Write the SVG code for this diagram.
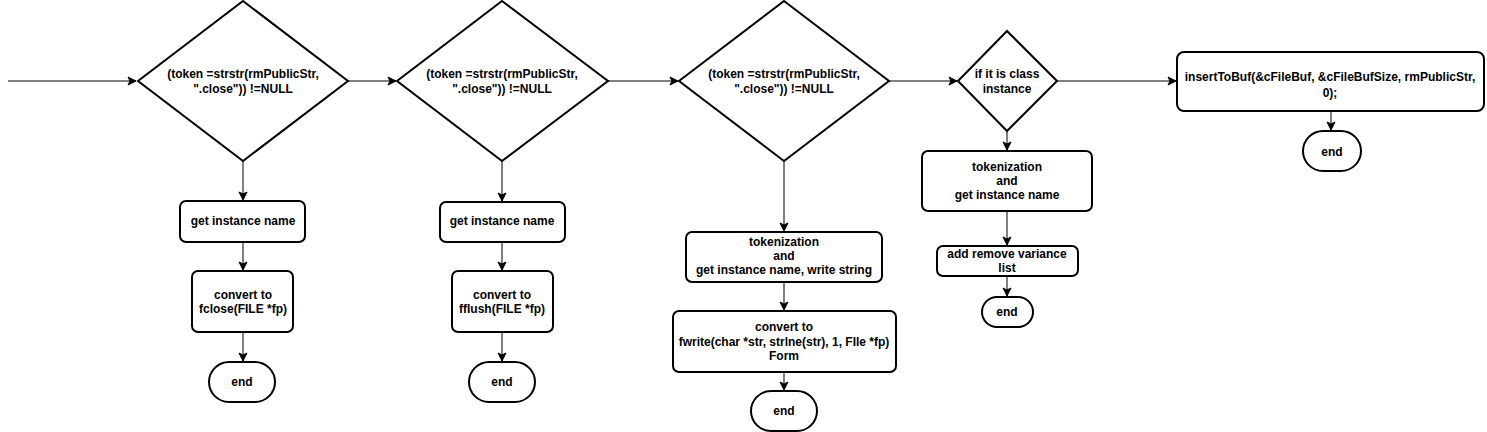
<svg xmlns="http://www.w3.org/2000/svg" width="1487" height="432" viewBox="0 0 1487 432">
<style>
.s{fill:#fff;stroke:#000;stroke-width:2}
.c{fill:none;stroke:#000;stroke-width:1}
text{font-family:"Liberation Sans",Arial,sans-serif;font-size:12px;font-weight:bold;text-anchor:middle;fill:#000}
</style>
<defs>
<marker id="a" markerUnits="userSpaceOnUse" markerWidth="10" markerHeight="10" viewBox="-1 -5 10 10" refX="8" refY="0" orient="auto">
<path d="M0,-4 L8,0 L0,4 L2,0 Z" fill="#000" stroke="#000" stroke-width="1"/>
</marker>
</defs>
<rect width="1487" height="432" fill="#fff"/>
<g id="connectors">
<path class="c" d="M8,81 H136" marker-end="url(#a)"/>
<path class="c" d="M348,81 H396" marker-end="url(#a)"/>
<path class="c" d="M608,81 H678" marker-end="url(#a)"/>
<path class="c" d="M889,81 H957" marker-end="url(#a)"/>
<path class="c" d="M1057,81 H1176" marker-end="url(#a)"/>
<path class="c" d="M243,161 V200" marker-end="url(#a)"/>
<path class="c" d="M243,242 V270" marker-end="url(#a)"/>
<path class="c" d="M243,332 V361" marker-end="url(#a)"/>
<path class="c" d="M502,161 V201" marker-end="url(#a)"/>
<path class="c" d="M502,242 V270" marker-end="url(#a)"/>
<path class="c" d="M502,332 V361" marker-end="url(#a)"/>
<path class="c" d="M784,161 V231" marker-end="url(#a)"/>
<path class="c" d="M784,282 V310" marker-end="url(#a)"/>
<path class="c" d="M784,372 V390" marker-end="url(#a)"/>
<path class="c" d="M1007,131 V150" marker-end="url(#a)"/>
<path class="c" d="M1007,211 V245" marker-end="url(#a)"/>
<path class="c" d="M1007,276 V296" marker-end="url(#a)"/>
<path class="c" d="M1331,111 V130" marker-end="url(#a)"/>
</g>
<g id="d1">
<polygon class="s" points="243,1 348,81 243,161 138,81"/>
<text x="243" y="78">(token =strstr(rmPublicStr,</text>
<text x="243" y="93">".close")) !=NULL</text>
</g>
<g id="b1a">
<rect class="s" x="180" y="201" width="125" height="41" rx="6"/>
<text x="243" y="225">get instance name</text>
</g>
<g id="b1b">
<rect class="s" x="192" y="271" width="101" height="61" rx="6"/>
<text x="243" y="298.5">convert to</text>
<text x="243" y="313">fclose(FILE *fp)</text>
</g>
<g id="e1">
<rect class="s" x="209" y="362" width="66" height="40" rx="20"/>
<text x="242" y="386">end</text>
</g>
<g id="d2">
<polygon class="s" points="502,1 608,81 502,161 397,81"/>
<text x="502" y="78">(token =strstr(rmPublicStr,</text>
<text x="502" y="93">".close")) !=NULL</text>
</g>
<g id="b2a">
<rect class="s" x="440" y="202" width="125" height="40" rx="6"/>
<text x="502" y="225">get instance name</text>
</g>
<g id="b2b">
<rect class="s" x="452" y="271" width="101" height="61" rx="6"/>
<text x="502" y="298.5">convert to</text>
<text x="502" y="313">fflush(FILE *fp)</text>
</g>
<g id="e2">
<rect class="s" x="469" y="362" width="66" height="40" rx="20"/>
<text x="502" y="386">end</text>
</g>
<g id="d3">
<polygon class="s" points="784,1 889,81 784,161 679,81"/>
<text x="784" y="78">(token =strstr(rmPublicStr,</text>
<text x="784" y="93">".close")) !=NULL</text>
</g>
<g id="b3a">
<rect class="s" x="686" y="232" width="196" height="50" rx="6"/>
<text x="784" y="246">tokenization</text>
<text x="784" y="260">and</text>
<text x="784" y="274">get instance name, write string</text>
</g>
<g id="b3b">
<rect class="s" x="673" y="311" width="223" height="61" rx="6"/>
<text x="784" y="331">convert to</text>
<text x="784" y="345.5">fwrite(char *str, strlne(str), 1, FIle *fp)</text>
<text x="784" y="360">Form</text>
</g>
<g id="e3">
<rect class="s" x="751" y="391" width="66" height="40" rx="20"/>
<text x="784" y="415">end</text>
</g>
<g id="d4">
<polygon class="s" points="1007,31 1057,81 1007,131 958,81"/>
<text x="1007" y="78">if it is class</text>
<text x="1007" y="93">instance</text>
</g>
<g id="b4a">
<rect class="s" x="922" y="151" width="170" height="60" rx="6"/>
<text x="1007" y="171">tokenization</text>
<text x="1007" y="185">and</text>
<text x="1007" y="199">get instance name</text>
</g>
<g id="b4b">
<rect class="s" x="937" y="246" width="141" height="30" rx="6"/>
<text x="1007" y="258">add remove variance</text>
<text x="1007" y="272">list</text>
</g>
<g id="e4">
<rect class="s" x="982" y="297" width="51" height="30" rx="15"/>
<text x="1007" y="316">end</text>
</g>
<g id="b5">
<rect class="s" x="1177" y="52" width="307" height="59" rx="7"/>
<text x="1330" y="81">insertToBuf(&amp;cFileBuf, &amp;cFileBufSize, rmPublicStr,</text>
<text x="1330" y="97">0);</text>
</g>
<g id="e5">
<rect class="s" x="1303" y="131" width="58" height="40" rx="20"/>
<text x="1332" y="155.5">end</text>
</g>
</svg>
